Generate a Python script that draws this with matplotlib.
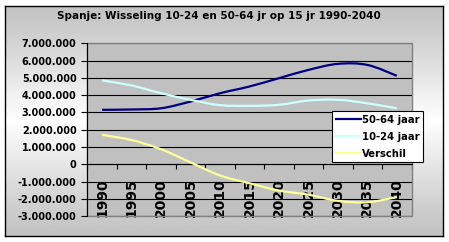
import numpy as np
import matplotlib
matplotlib.use('Agg')
import matplotlib.pyplot as plt
from matplotlib.path import Path
from matplotlib.patches import PathPatch, Rectangle
from matplotlib.lines import Line2D
import matplotlib.ticker as mticker

# data
years = ['1990', '1995', '2000', '2005', '2010', '2015',
         '2020', '2025', '2030', '2035', '2040']
age_50_64 = [3150000, 3170000, 3240000, 3630000, 4110000, 4500000,
             4980000, 5460000, 5810000, 5750000, 5120000]
age_10_24 = [4850000, 4560000, 4110000, 3730000, 3420000, 3380000,
             3440000, 3690000, 3730000, 3530000, 3240000]
verschil = [1700000, 1400000, 870000, 110000, -650000, -1100000,
            -1520000, -1760000, -2120000, -2200000, -1900000]

series = [('50-64 jaar', age_50_64, '#000080'),
          ('10-24 jaar', age_10_24, '#ccffff'),
          ('Verschil', verschil, '#ffff99')]

title = 'Spanje: Wisseling 10-24 en 50-64 jr op 15 jr 1990-2040'

plt.rcParams['font.family'] = 'DejaVu Sans'
plt.rcParams['font.weight'] = 'bold'


def smooth_path(x, y):
    # excel style smoothed line: bezier through the points
    pts = np.column_stack([x, y]).astype(float)
    ext = np.vstack([pts[0], pts, pts[-1]])
    verts = [pts[0]]
    codes = [Path.MOVETO]
    for i in range(1, len(ext) - 2):
        p0, p1, p2, p3 = ext[i - 1], ext[i], ext[i + 1], ext[i + 2]
        verts += [p1 + (p2 - p0) / 6, p2 - (p3 - p1) / 6, p2]
        codes += [Path.CURVE4] * 3
    return Path(verts, codes)


fig = plt.figure(figsize=(4.49, 2.42), dpi=100, facecolor='white')

# chart area with gradient fill
bg = fig.add_axes([5 / 449, 6 / 242, 438 / 449, 230 / 242])
t = np.linspace(0, 1, 256)
grad = 0.76 + 0.24 * (1 - np.abs(t - 0.5) * 2) ** 1.1
bg.imshow(grad[:, None], cmap='gray', vmin=0, vmax=1, aspect='auto',
          extent=[0, 1, 0, 1])
bg.set_xticks([])
bg.set_yticks([])
for s in bg.spines.values():
    s.set_color('black')
    s.set_linewidth(1.0)

fig.text(219.2 / 449, 1 - 19 / 242, title, ha='center', va='baseline',
         fontsize=7.5, fontweight='bold')

ax = fig.add_axes([87.4 / 449, (242 - 216.1) / 242, 324.1 / 449, 172.8 / 242])
ax.set_facecolor('#c0c0c0')
ax.set_xlim(0, len(years))
ax.set_ylim(-3000000, 7000000)

xc = np.arange(len(years)) + 0.5
handles = []
for name, vals, col in series:
    ax.add_patch(PathPatch(smooth_path(xc, vals), facecolor='none',
                           edgecolor=col, lw=1.6, zorder=3,
                           capstyle='butt'))
    handles.append(Line2D([], [], color=col, lw=1.6))

# axes
ax.set_axisbelow(True)
ax.yaxis.set_major_locator(mticker.MultipleLocator(1000000))
ax.yaxis.set_major_formatter(mticker.FuncFormatter(
    lambda v, p: '{:,}'.format(int(round(v))).replace(',', '.')))
ax.yaxis.grid(True, color='black', lw=0.8)
ax.tick_params(axis='y', direction='out', length=4.3, width=0.8,
               pad=3.5, labelsize=7)

ax.set_xticks(np.arange(len(years) + 1))
ax.set_xticklabels([])
ax.set_xticks(xc, minor=True)
ax.set_xticklabels(years, minor=True, fontsize=7)
ax.tick_params(axis='x', which='major', direction='out', length=3.5,
               width=0.8)
ax.tick_params(axis='x', which='minor', length=0, pad=10,
               labelrotation=90)

ax.spines['bottom'].set_position(('data', 0))
ax.spines['bottom'].set_color('black')
ax.spines['left'].set_color('black')
ax.spines['top'].set_visible(False)
ax.spines['right'].set_visible(False)
ax.add_patch(Rectangle((0, 0), 1, 1, transform=ax.transAxes, fill=False,
                       edgecolor='#808080', lw=1.0, zorder=2.4,
                       clip_on=False))

leg = ax.legend(handles, [s[0] for s in series], loc='upper left',
                bbox_to_anchor=(0.755, 0.608), borderaxespad=0,
                fontsize=7.2, frameon=True, fancybox=False,
                handlelength=2.5, handletextpad=0.15, labelspacing=0.7,
                borderpad=0.35)
leg.get_frame().set_edgecolor('black')
leg.get_frame().set_linewidth(0.8)
leg.get_frame().set_alpha(1)
leg.set_zorder(5)

fig.savefig('out.png', dpi=100, facecolor='white')
